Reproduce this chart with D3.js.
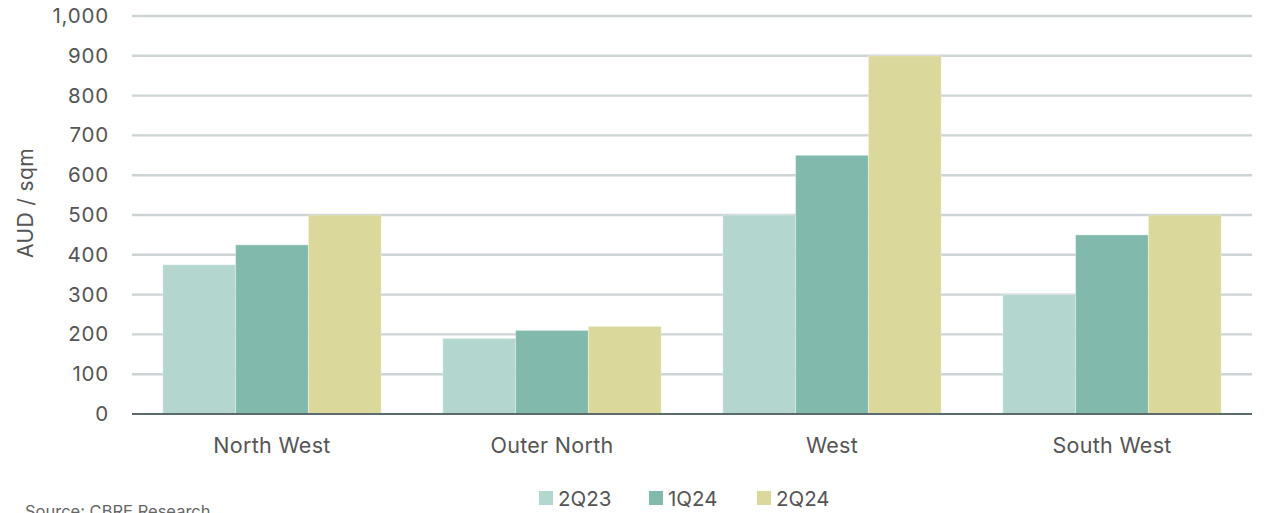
<!DOCTYPE html>
<html>
<head>
<meta charset="utf-8">
<script src="https://cdn.jsdelivr.net/npm/d3@7"></script>
<style>
  html, body { margin: 0; padding: 0; background: #fff; }
  svg { display: block; font-family: Inter, "Open Sans", sans-serif; }
</style>
</head>
<body>
<svg id="chart" width="1266" height="513"></svg>
<script>
// Industrial land values by precinct, AUD per square metre
const regions = ["North West", "Outer North", "West", "South West"];
const periods = ["2Q23", "1Q24", "2Q24"];
const values2Q23 = [375, 190, 500, 300];
const values1Q24 = [425, 210, 650, 450];
const values2Q24 = [500, 220, 900, 500];
const yTicks = [0, 100, 200, 300, 400, 500, 600, 700, 800, 900, 1000];
const colors = ["#b3d6cf", "#81baad", "#dad89b"];

const seriesValues = [values2Q23, values1Q24, values2Q24];

const svg = d3.select("#chart");
const margin = { left: 132, right: 14, top: 16, bottom: 99 };
const width = 1266, height = 513;
const textColor = "#555";

const x0 = d3.scaleBand()
  .domain(regions)
  .range([margin.left, width - margin.right])
  .paddingInner(0.22)
  .paddingOuter(0.11);

const x1 = d3.scaleBand()
  .domain(periods)
  .range([0, x0.bandwidth()])
  .padding(0);

const y = d3.scaleLinear()
  .domain([0, 1000])
  .range([height - margin.bottom, margin.top]);

const fmt = d3.format(",");

// Horizontal gridlines
svg.append("g")
  .selectAll("line")
  .data(yTicks.filter(d => d > 0))
  .join("line")
  .attr("x1", margin.left)
  .attr("x2", width - margin.right)
  .attr("y1", d => y(d))
  .attr("y2", d => y(d))
  .attr("stroke", "#cdd4d5")
  .attr("stroke-width", 2.4);

// Y axis tick labels
const yAxis = svg.append("g")
  .attr("transform", `translate(${margin.left},0)`)
  .call(d3.axisLeft(y).tickValues(yTicks).tickFormat(fmt).tickSize(0).tickPadding(23));
yAxis.select(".domain").remove();
yAxis.selectAll("text")
  .attr("fill", textColor)
  .attr("font-size", 20.5)
  .attr("letter-spacing", 0.8)
  .attr("font-family", "Inter, sans-serif");

// Bars
const groups = svg.append("g")
  .selectAll("g")
  .data(regions)
  .join("g")
  .attr("transform", d => `translate(${x0(d)},0)`);

groups.selectAll("rect")
  .data((r, i) => periods.map((p, k) => ({ period: p, value: seriesValues[k][i], k })))
  .join("rect")
  .attr("x", d => x1(d.period))
  .attr("width", x1.bandwidth())
  .attr("y", d => y(d.value))
  .attr("height", d => y(0) - y(d.value))
  .attr("fill", d => colors[d.k])
  .attr("stroke", "rgba(255,255,255,0.35)")
  .attr("stroke-width", 1);

// Baseline
svg.append("line")
  .attr("x1", margin.left)
  .attr("x2", width - margin.right)
  .attr("y1", y(0))
  .attr("y2", y(0))
  .attr("stroke", "#5b6a6a")
  .attr("stroke-width", 2);

// X axis labels
const xAxis = svg.append("g")
  .attr("transform", `translate(0,${y(0)})`)
  .call(d3.axisBottom(x0).tickSize(0).tickPadding(24));
xAxis.select(".domain").remove();
xAxis.selectAll("text")
  .attr("fill", textColor)
  .attr("font-size", 21.5)
  .attr("letter-spacing", 0.3)
  .attr("font-family", "Inter, sans-serif");

// Y axis title
svg.append("text")
  .attr("transform", `translate(33,203) rotate(-90)`)
  .attr("text-anchor", "middle")
  .attr("fill", textColor)
  .attr("font-size", 21)
  .attr("letter-spacing", 0.4)
  .text("AUD / sqm");

// Legend
const legendX = [539, 649, 757];
const legend = svg.append("g")
  .selectAll("g")
  .data(periods)
  .join("g")
  .attr("transform", (d, i) => `translate(${legendX[i]},491)`);
legend.append("rect")
  .attr("width", 14)
  .attr("height", 14)
  .attr("fill", (d, i) => colors[i]);
legend.append("text")
  .attr("x", 19)
  .attr("y", 15)
  .attr("fill", textColor)
  .attr("font-size", 20.5)
  .text(d => d);

// Source note
svg.append("text")
  .attr("x", 25)
  .attr("y", 517)
  .attr("fill", "#666")
  .attr("font-size", 16.5)
  .text("Source: CBRE Research");
</script>
</body>
</html>
